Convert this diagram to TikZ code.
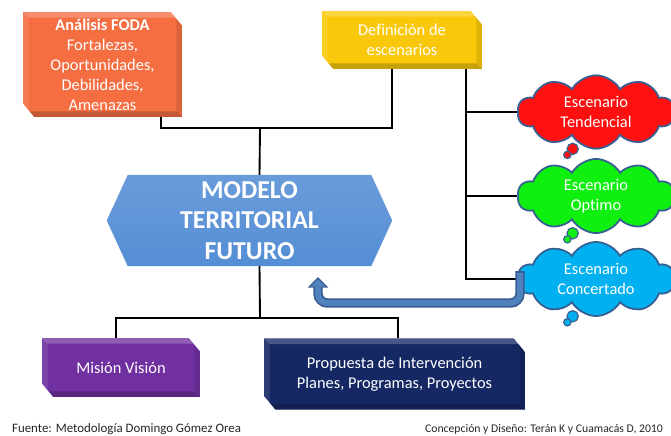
\documentclass[tikz,border=0pt]{standalone}
\usepackage{fontspec}
\setmainfont[Ligatures=NoCommon]{Carlito}
\usepackage{xcolor}
\definecolor{fodaorange}{RGB}{244,110,66}
\definecolor{escyellow}{RGB}{250,200,10}
\definecolor{modelblue}{RGB}{85,142,213}
\definecolor{misionpurple}{RGB}{112,48,160}
\definecolor{propnavy}{RGB}{22,40,100}
\definecolor{tendred}{RGB}{255,16,16}
\definecolor{optgreen}{RGB}{16,240,16}
\definecolor{concblue}{RGB}{0,176,240}
\definecolor{cloudedge}{RGB}{55,96,146}
\definecolor{backfill}{RGB}{79,129,189}
\definecolor{backedge}{RGB}{56,93,146}
\usetikzlibrary{arrows.meta, positioning, shapes.symbols, backgrounds}

\tikzset{
  link/.style={draw=black, line width=1.6pt},
  boxtext/.style={text=white, font=\fontsize{14}{17}\selectfont, align=center},
  bevelbox/.style={rectangle, inner sep=0pt, boxtext},
  cloudbox/.style={cloud, cloud puffs=10, cloud puff arc=120, cloud ignores aspect,
    minimum width=4.7cm, minimum height=2.2cm, draw=cloudedge, line width=1.5pt, boxtext},
  footnote/.style={text=black!85, font=\fontsize{11}{13}\selectfont}
}

% bevelled face behind a box node: #1 node, #2 colour
\newcommand{\bevelface}[2]{%
  \begin{scope}
    \clip (#1.north west) -- ([xshift=-10pt]#1.north east) -- ([yshift=-12pt]#1.north east)
      -- (#1.south east) -- ([xshift=10pt]#1.south west) -- ([yshift=12pt]#1.south west) -- cycle;
    \fill[#2] (#1.north west) rectangle (#1.south east);
    \fill[white,opacity=.22] (#1.north west) -- (#1.north east) -- ([shift={(-5pt,-5pt)}]#1.north east)
      -- ([shift={(5pt,-5pt)}]#1.north west) -- cycle;
    \fill[white,opacity=.1] (#1.north west) -- ([shift={(5pt,-5pt)}]#1.north west)
      -- ([shift={(5pt,5pt)}]#1.south west) -- (#1.south west) -- cycle;
    \fill[black,opacity=.1] (#1.north east) -- ([shift={(-5pt,-5pt)}]#1.north east)
      -- ([shift={(-5pt,5pt)}]#1.south east) -- (#1.south east) -- cycle;
    \fill[black,opacity=.2] (#1.south west) -- ([shift={(5pt,5pt)}]#1.south west)
      -- ([shift={(-5pt,5pt)}]#1.south east) -- (#1.south east) -- cycle;
  \end{scope}}

\begin{document}
\begin{tikzpicture}[x=0.03cm, y=-0.03cm]
  \useasboundingbox (0,0) rectangle (671,435);

  % --- boxes ---
  \node[bevelbox, minimum width=4.77cm, minimum height=3.15cm] (foda) at (102.5,64.5)
    {\textbf{Análisis FODA}\\Fortalezas,\\Oportunidades,\\Debilidades,\\Amenazas};
  \node[bevelbox, minimum width=4.8cm, minimum height=1.74cm] (defin) at (402,40)
    {Definición de\\escenarios};
  \node[boxtext, font=\fontsize{22}{26}\selectfont\bfseries, inner sep=0pt, minimum width=8.55cm, minimum height=2.73cm] (modelo) at (249.5,220.5)
    {MODELO\\TERRITORIAL\\FUTURO};
  \node[bevelbox, minimum width=4.74cm, minimum height=1.77cm] (mision) at (121,367.5)
    {Misión Visión};
  \node[bevelbox, minimum width=7.83cm, minimum height=2.13cm] (prop) at (394.5,374)
    {Propuesta de Intervención\\Planes, Programas, Proyectos};

  % --- scenario clouds ---
  \node[cloudbox, fill=tendred] (tend) at (596,112) {Escenario\\Tendencial};
  \node[cloudbox, fill=optgreen] (opt) at (596,196) {Escenario\\Optimo};
  \node[cloudbox, fill=concblue] (conc) at (596,279) {Escenario\\Concertado};
  \foreach \c/\col in {tend/tendred, opt/optgreen, conc/concblue} {
    \filldraw[fill=\col, draw=cloudedge, line width=1pt] ([shift={(-0.7cm,0.02cm)}]\c.south) circle (0.17cm);
    \filldraw[fill=\col, draw=cloudedge, line width=1pt] ([shift={(-0.86cm,-0.16cm)}]\c.south) circle (0.11cm);
  }

  % --- connectors ---
  \coordinate (jtop) at (260,128);
  \coordinate (jbot) at (260,318);
  \coordinate (spine) at ([xshift=-0.48cm]defin.south east);
  \begin{scope}[on background layer]
    \fill[white] (0,0) rectangle (671,435);
    \bevelface{foda}{fodaorange}
    \bevelface{defin}{escyellow}
    \bevelface{mision}{misionpurple}
    \bevelface{prop}{propnavy}
    \shade[top color=modelblue!88!white, bottom color=modelblue]
      (modelo.west) -- ([xshift=0.63cm]modelo.north west) -- ([xshift=-0.63cm]modelo.north east)
      -- (modelo.east) -- ([xshift=-0.63cm]modelo.south east) -- ([xshift=0.63cm]modelo.south west) -- cycle;
    \draw[link] ([xshift=-0.63cm]foda.south east) |- (jtop) -| ([xshift=-0.3cm]defin.south);
    \draw[link] (jtop) -- ([xshift=0.3cm]modelo.north);
    \draw[link] ([xshift=0.3cm]modelo.south) -- (jbot);
    \draw[link] ([xshift=-0.15cm]mision.north) |- (jbot) -| ([xshift=0.1cm]prop.north);
    \draw[link] (spine) |- (conc.west);
    \draw[link] (spine |- tend.west) -- (tend.west);
    \draw[link] (spine |- opt.west) -- (opt.west);
  \end{scope}

  % --- return arrow ---
  \coordinate (backstart) at (520,271);
  \coordinate (backlow) at (318,303);
  \coordinate (backtip) at (318,277);
  \draw[backedge, line width=8pt, rounded corners=8pt, -{Triangle[length=9pt,width=17pt]}]
    (backstart) |- (backlow) -- (backtip);
  \draw[backfill, line width=5pt, rounded corners=8pt, shorten >=1.8pt, -{Triangle[length=6.5pt,width=12.5pt]}]
    ([yshift=-1.5pt]backstart) |- (backlow) -- (backtip);

  % --- sources ---
  \node[footnote, anchor=base west] (fuente) at (8,432) {Fuente: Metodología Domingo Gómez Orea};
  \node[footnote, font=\fontsize{10}{12}\selectfont, anchor=base east] (autor) at (667,432)
    {Concepción y Diseño: Terán K y Cuamacás D, 2010};
\end{tikzpicture}
\end{document}
